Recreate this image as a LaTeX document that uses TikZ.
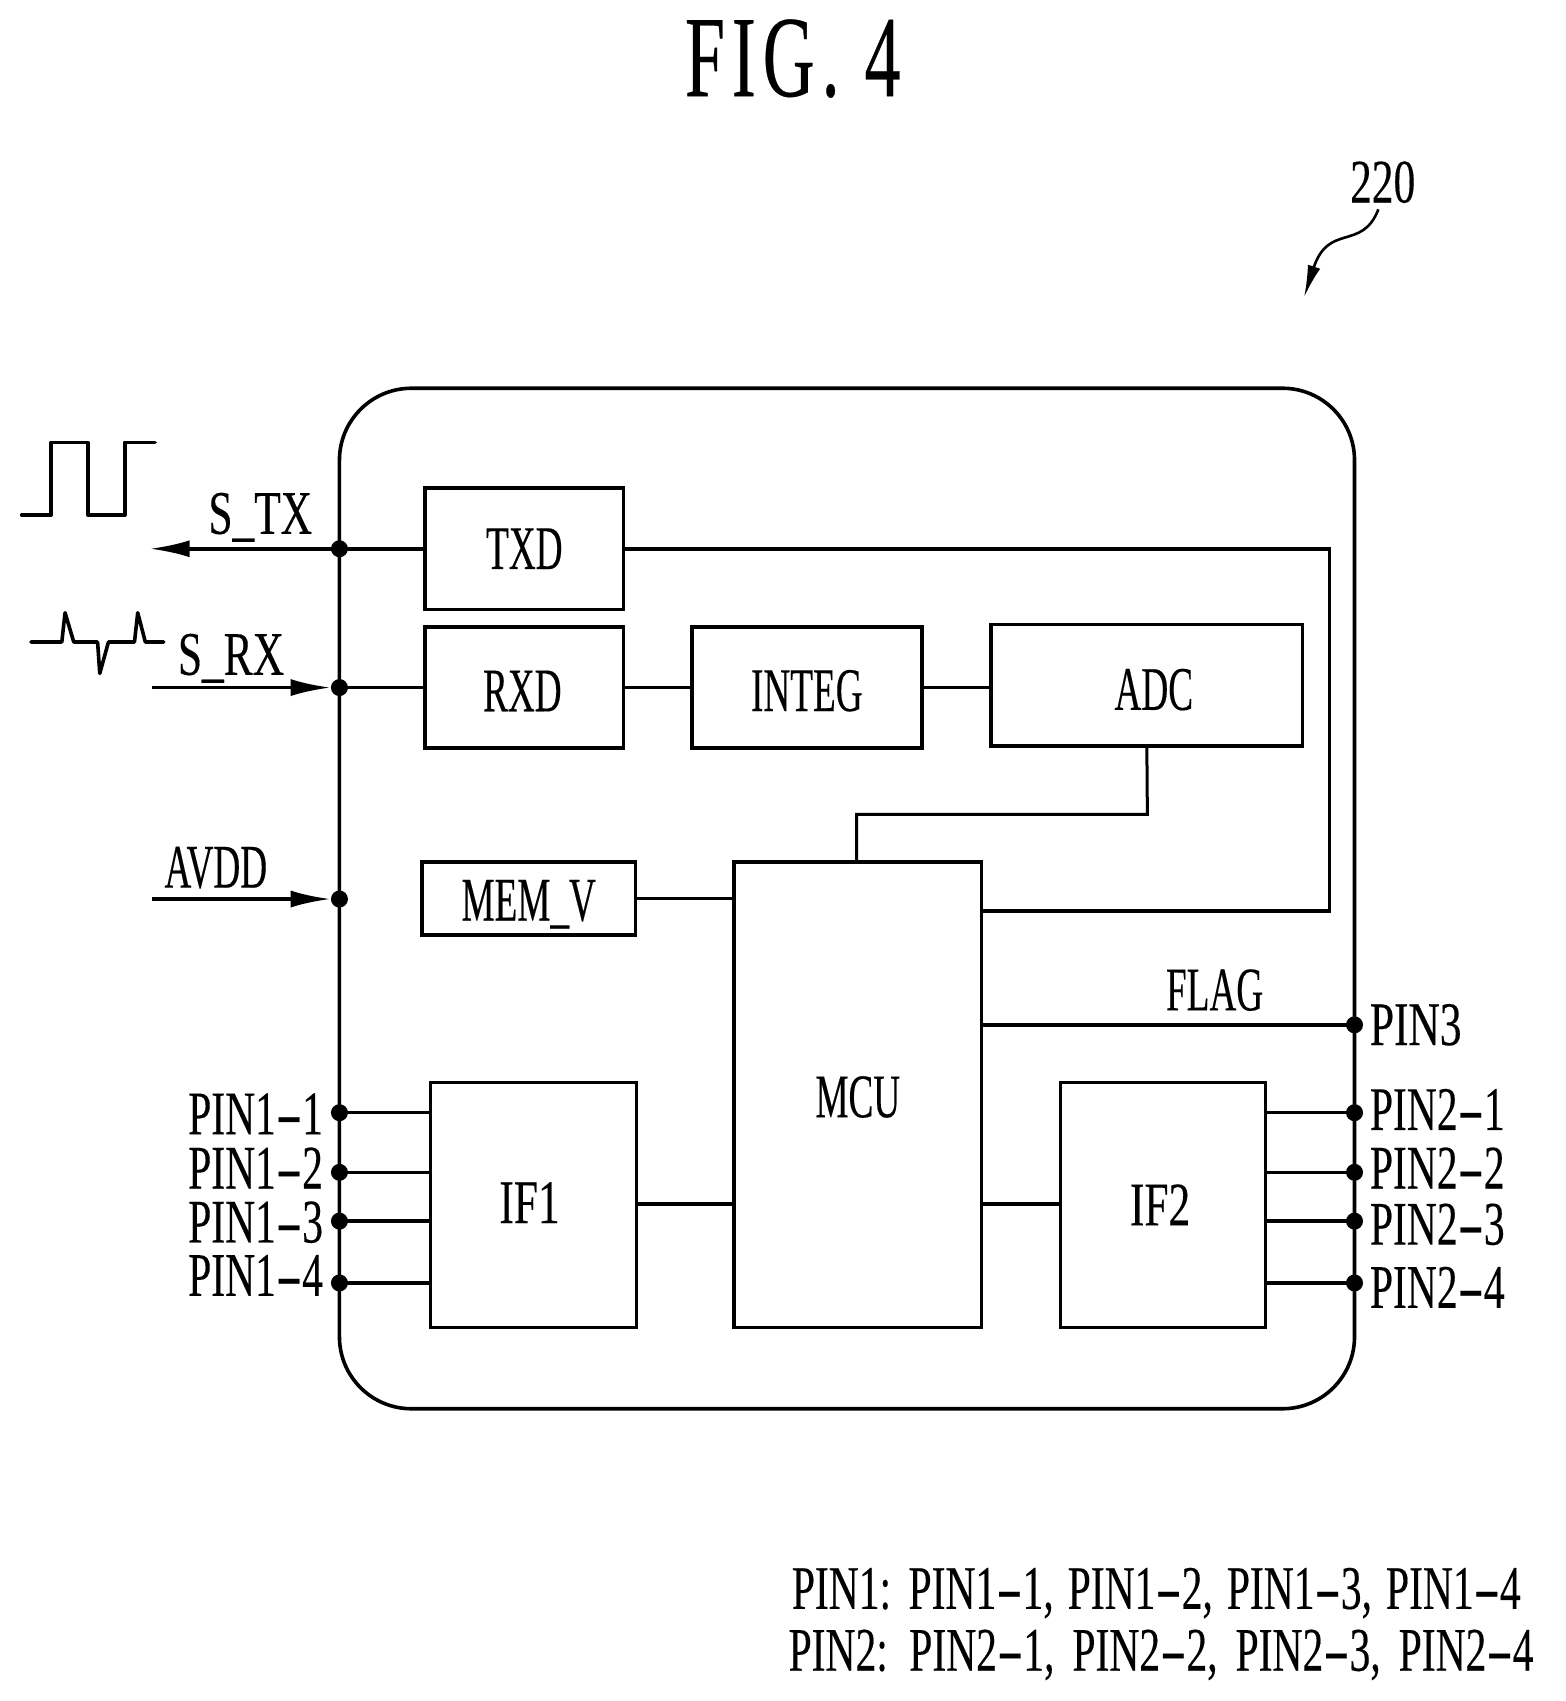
\documentclass[tikz,border=0pt]{standalone}
\usepackage{fontspec}
\setmainfont[FakeStretch=0.6,FakeBold=0.25]{Liberation Serif}
\newfontfamily\widefont[FakeStretch=0.7,FakeBold=0.25]{Liberation Serif}
\newfontfamily\pinfont[FakeStretch=0.67,FakeBold=0.25]{Liberation Serif}
\newfontfamily\titlefont[FakeStretch=0.62,LetterSpace=6,FakeBold=0.25]{Liberation Serif}
\usetikzlibrary{arrows.meta,calc}
\newcommand{\dsh}{\scalebox{1.9}[1]{-}}
\newcommand{\up}[1]{\rule{0pt}{#1pt}}
\tikzset{
  ln/.style={line width=3.6pt},
  blockbox/.style={draw,line width=3.6pt,inner sep=0pt,outer sep=0pt,anchor=north west,font=\fontsize{62}{62}\selectfont},
  lbl/.style={inner sep=0pt,font=\fontsize{62}{62}\selectfont},
  wlbl/.style={inner sep=0pt,font=\fontsize{62}{62}\widefont},
  plbl/.style={inner sep=0pt,font=\fontsize{62}{62}\pinfont},
  pin/.style={circle,fill=black,inner sep=0pt,minimum size=17pt},
  bigarrow/.style={-{Latex[length=40pt,width=17pt]},line width=3.6pt},
}
\newcommand{\blk}[6]{\node[blockbox,minimum width=#4*1.0845pt-#2*1.0845pt,minimum height=#5*1.0845pt-#3*1.0845pt] (#1) at (#2,#3) {#6};}
\begin{document}
\begin{tikzpicture}[x=1.0845pt,y=-1.0845pt]
\useasboundingbox (0,0) rectangle (1444,1568.5);
\fill[white] (0,0) rectangle (1444,1568.5);
% title & reference
\node[inner sep=0pt,font=\fontsize{116}{116}\titlefont] (title) at (731,54) {FIG. 4};
\node[wlbl] (ref) at (1275,168) {220};
\coordinate (refa) at (1271,193);
\coordinate (refb) at (1202.5,274);
\draw[line width=2.6pt,-{Latex[length=32pt,width=13pt]}] (refa) .. controls (1256,232) and (1225,205) .. (refb);
% outline
\node[draw,line width=3.6pt,rounded corners=72pt,inner sep=0pt,outer sep=0pt,anchor=north west,minimum width=936*1.0845pt,minimum height=941*1.0845pt] (outline) at (313,358) {};
% blocks
\blk{txd}{392}{450}{575}{562}{TXD}
\blk{rxd}{392}{578}{575}{690}{\up{47.5}RXD\hspace*{4pt}}
\blk{integ}{638}{578}{850}{690}{\up{47.5}INTEG}
\blk{adc}{914}{576}{1201}{688}{\up{49.5}\hspace*{14pt}ADC}
\blk{memv}{389}{795}{586}{862}{\up{52}MEM\_V}
\blk{mcu}{677}{795}{905}{1224}{\up{45.5}MCU}
\blk{ifa}{397}{998}{587}{1224}{\rule[-4.5pt]{0pt}{0pt}{\widefont IF1}\hspace*{8pt}}
\blk{ifb}{978}{998}{1167}{1224}{{\widefont IF2}\hspace*{6pt}}
% dots
\node[pin] (dtx) at (313,506) {};
\node[pin] (drx) at (313,634) {};
\node[pin] (dav) at (313,829) {};
\node[pin] (dpa) at (313,1026) {};
\node[pin] (dpb) at (313,1081) {};
\node[pin] (dpc) at (313,1126) {};
\node[pin] (dpd) at (313,1183) {};
\node[pin] (dp3) at (1249,945) {};
\node[pin] (dqa) at (1249,1026) {};
\node[pin] (dqb) at (1249,1081) {};
\node[pin] (dqc) at (1249,1126) {};
\node[pin] (dqd) at (1249,1183) {};
% free ends
\coordinate (txout) at (138,506);
\coordinate (rxin) at (140,634);
\coordinate (avin) at (140,829);
% connectors
\draw[bigarrow] (dtx.center) -- (txout);
\draw[ln] (dtx.center) -- (txd.west);
\draw[bigarrow] (rxin) -- (drx);
\draw[ln] (drx.center) -- (rxd.west);
\draw[bigarrow] (avin) -- (dav);
\draw[ln] (rxd.east) -- (integ.west);
\draw[ln] (integ.east) -- (adc.west |- integ.east);
\draw[ln] (txd.east) -- (1226,506) -- (1226,840) -- (mcu.east |- 0,840);
\draw[line width=3pt] (adc.south) -- (1058,751) -- (790,751) -- (mcu.north -| 790,0);
\draw[ln] (memv.east) -- (mcu.west |- memv.east);
\draw[ln] (mcu.east |- dp3) -- (dp3.center);
\draw[ln] (ifa.east |- 0,1110) -- (mcu.west |- 0,1110);
\draw[ln] (mcu.east |- 0,1110) -- (ifb.west |- 0,1110);
\foreach \d/\e in {dpa/dqa,dpb/dqb,dpc/dqc,dpd/dqd}{
  \draw[ln] (\d.center) -- (ifa.west |- \d);
  \draw[ln] (ifb.east |- \e) -- (\e.center);
}
% waveforms
\draw[ln,line cap=round,line join=round] (20,475) -- (47,475) -- (47,408) -- (81,408) -- (81,475) -- (115,475) -- (115,408) -- (143,408);
\draw[ln,line cap=round,line join=round] (28.6,592) -- (57,592) -- (60,565) -- (68,592) -- (90,592) -- (92,621) -- (100,592) -- (124,592) -- (127,565) -- (134,592) -- (151,592);
% labels
\node[wlbl] (stx) at (240,477) {S\_TX};
\node[wlbl] (srx) at (213,607) {S\_RX};
\node[lbl] (avdd) at (199,800) {AVDD};
\node[lbl] (flag) at (1120,913) {FLAG};
\node[wlbl,anchor=west] (p3) at (1263,945) {PIN3};
\node[plbl,anchor=east] (pa) at (298,1027) {PIN1\dsh1};
\node[plbl,anchor=east] (pb) at (298,1077) {PIN1\dsh2};
\node[plbl,anchor=east] (pc) at (298,1127) {PIN1\dsh3};
\node[plbl,anchor=east] (pd) at (298,1176) {PIN1\dsh4};
\node[plbl,anchor=west] (qa) at (1263,1023) {PIN2\dsh1};
\node[plbl,anchor=west] (qb) at (1263,1077) {PIN2\dsh2};
\node[plbl,anchor=west] (qc) at (1263,1129) {PIN2\dsh3};
\node[plbl,anchor=west] (qd) at (1263,1187) {PIN2\dsh4};
\node[plbl,anchor=west] (na) at (730,1469) {\spaceskip=14pt PIN1: PIN1\dsh1, PIN1\dsh2, PIN1\dsh3, PIN1\dsh4};
\node[plbl,anchor=west] (nb) at (727,1526) {\spaceskip=18pt PIN2: PIN2\dsh1, PIN2\dsh2, PIN2\dsh3, PIN2\dsh4};
\end{tikzpicture}
\end{document}
